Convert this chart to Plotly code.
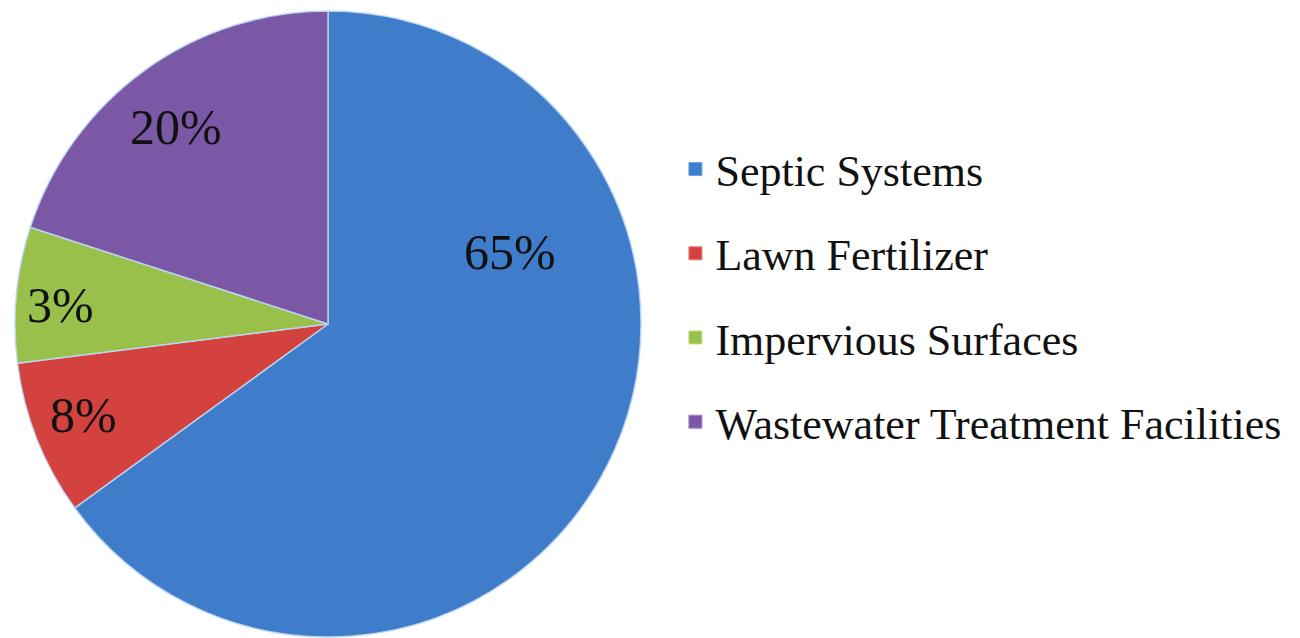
import plotly.graph_objects as go

# ---- data ----
categories = ["Septic Systems", "Lawn Fertilizer", "Impervious Surfaces",
              "Wastewater Treatment Facilities"]
slice_values = [65, 8, 7, 20]              # slice sizes as drawn
slice_labels = ["65%", "8%", "3%", "20%"]  # labels as printed on the chart

# ---- styles / layout ----
colors = ["#3f7cca", "#d3423e", "#98c04a", "#7b58a5"]
edge_colors = ["#6aa2e6", "#e87a76", "#c2e07f", "#a387c9"]
label_pos = [(510, 252), (83, 415), (61, 305), (176, 127)]  # page px, label centres
W, H = 1300, 638
PAGE_OFF = 8  # default body margin of the html page
FONT = "Liberation Serif, Georgia, serif"


def px_to_paper(px, py):
    return (px - PAGE_OFF) / W, 1 - (py - PAGE_OFF) / H


fig = go.Figure()
fig.add_trace(go.Pie(
    labels=categories,
    values=slice_values,
    sort=False,
    direction="clockwise",
    rotation=0,
    textinfo="none",
    hoverinfo="label+percent",
    showlegend=False,
    marker=dict(colors=colors, line=dict(color="rgba(190,215,245,0.9)", width=1.5)),
    domain=dict(x=[0.005385, 0.486923], y=[0.014107, 0.995298]),
))

# legend entries (one group each so the spacing can be set)
for name, c, ec in zip(categories, colors, edge_colors):
    fig.add_trace(go.Scatter(
        x=[None], y=[None], mode="markers", name=name, legendgroup=name,
        marker=dict(symbol="square", size=13, color=c, line=dict(color=ec, width=1)),
    ))

for txt, (px, py) in zip(slice_labels, label_pos):
    ax, ay = px_to_paper(px, py)
    fig.add_annotation(x=ax, y=ay, xref="paper", yref="paper",
                       text=txt, showarrow=False,
                       font=dict(family=FONT, size=50, color="#111111"),
                       xanchor="center", yanchor="middle")

fig.update_layout(
    width=W, height=H,
    margin=dict(l=0, r=0, t=0, b=0),
    paper_bgcolor="white", plot_bgcolor="white",
    xaxis=dict(visible=False), yaxis=dict(visible=False),
    legend=dict(
        x=0.5134, y=0.5494, xanchor="left", yanchor="middle",
        font=dict(family=FONT, size=44, color="#111111"),
        tracegroupgap=24, itemsizing="trace",
        bgcolor="rgba(0,0,0,0)",
    ),
)

fig.write_html("out.html")
